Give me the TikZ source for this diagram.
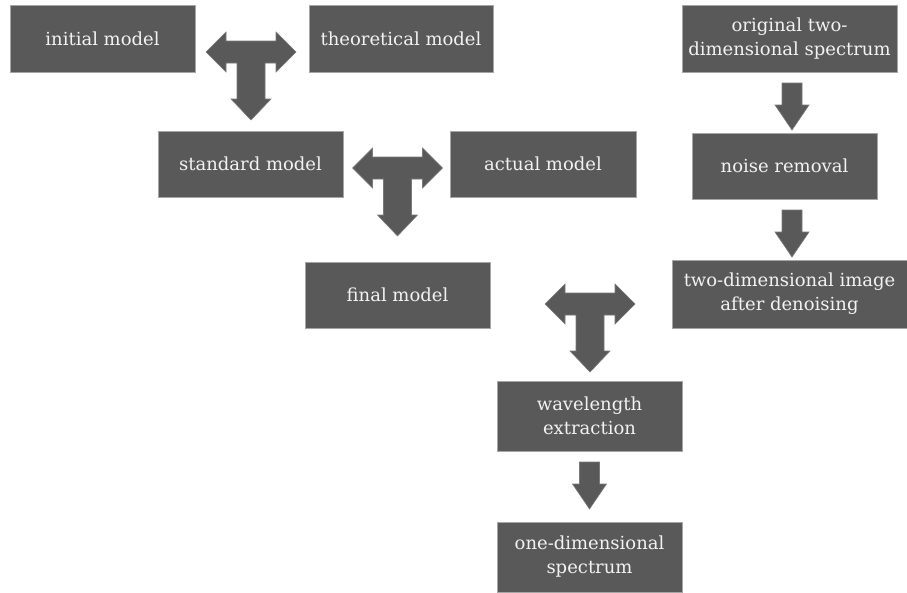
\documentclass[tikz,border=0pt]{standalone}
\usepackage{fontspec}
\setmainfont{DejaVu Serif}
\definecolor{boxfill}{HTML}{595959}
\definecolor{boxline}{HTML}{A6A6A6}
\definecolor{arrline}{HTML}{7A7A7A}
\definecolor{txt}{HTML}{F2F2F2}
\tikzset{
  box/.style={rectangle, fill=boxfill, draw=boxline, line width=1pt, text=txt,
    align=center, font=\fontsize{18}{24}\selectfont, inner sep=0pt},
  blockarrow/.style={fill=boxfill, draw=arrline, line width=0.6pt, line join=miter}
}
\newcommand\bx[6]{\node[box, minimum width={(#4-#2)*1pt}, minimum height={(#5-#3)*1pt}] (#1) at ({(#2+#4)/2},{(#3+#5)/2}) {#6};}
\newcommand\tarrow[2]{\draw[blockarrow, shift={(#1,#2)}]
  (-45,20) -- (-25,0) -- (-25,9) -- (25,9) -- (25,0) -- (45,20) -- (25,40) -- (25,31)
  -- (14,31) -- (14,67) -- (20,67) -- (0,88) -- (-20,67) -- (-14,67) -- (-14,31)
  -- (-25,31) -- (-25,40) -- cycle;}
\newcommand\darrow[2]{\draw[blockarrow, shift={(#1,#2)}]
  (-10,0) -- (10,0) -- (10,22) -- (17,22) -- (0,47) -- (-17,22) -- (-10,22) -- cycle;}
\begin{document}
\begin{tikzpicture}[x=1pt,y=-1pt]
\useasboundingbox (0,0) rectangle (907,592);
\bx{init}{10}{5}{195}{72}{initial model}
\bx{theo}{309}{5}{493}{72}{theoretical model}
\bx{orig}{682}{5}{897}{72}{original two-\\dimensional spectrum}
\bx{std}{158}{131}{343}{197}{standard model}
\bx{act}{450}{131}{636}{197}{actual model}
\bx{noise}{692}{133}{877}{199}{noise removal}
\bx{final}{305}{262}{490}{328}{final model}
\bx{twod}{672}{260}{907}{328}{two-dimensional image\\after denoising}
\bx{wave}{497}{381}{682}{451}{wavelength\\extraction}
\bx{oned}{497}{522}{682}{592}{one-dimensional\\spectrum}
\tarrow{251}{32}
\tarrow{397.5}{148}
\tarrow{590}{284}
\darrow{792}{83}
\darrow{792}{210}
\darrow{589.5}{462}
\end{tikzpicture}
\end{document}
